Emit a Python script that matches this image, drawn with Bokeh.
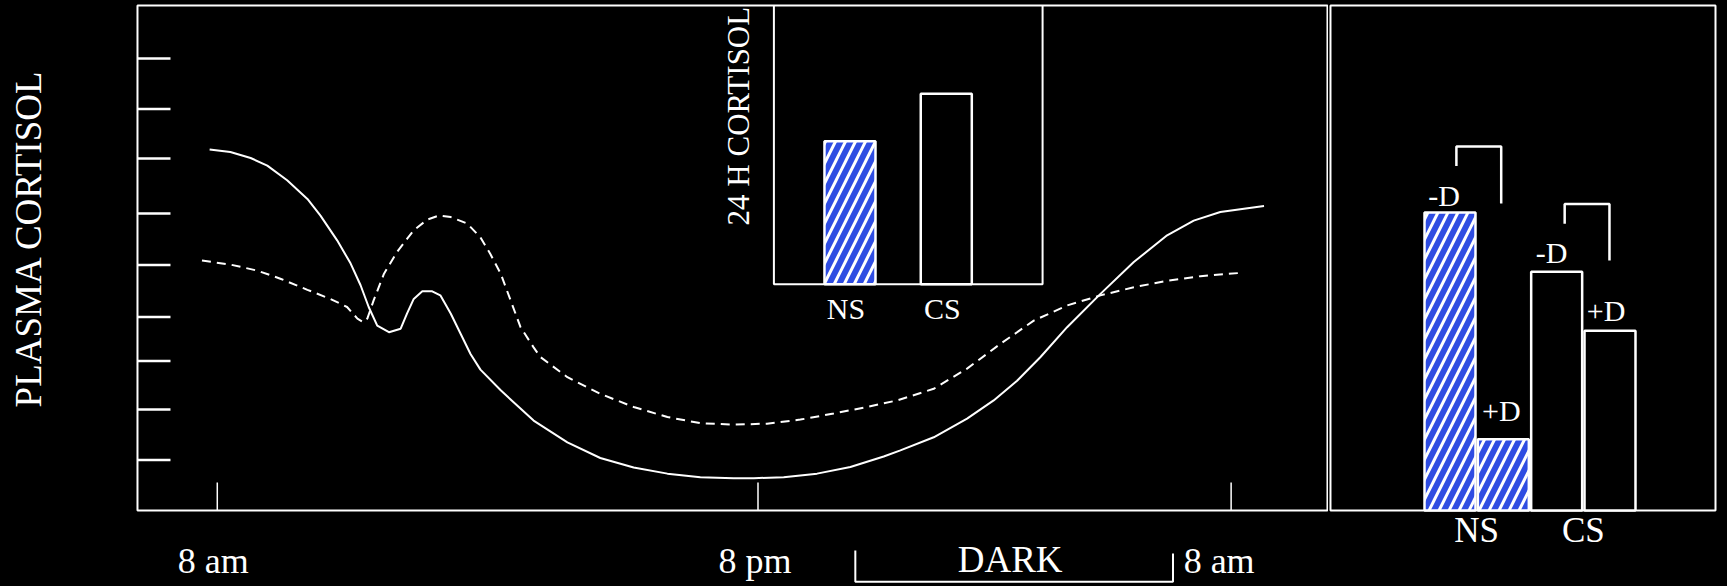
from math import pi
from bokeh.plotting import figure
from bokeh.layouts import row
from bokeh.models import Range1d, ColumnDataSource
from bokeh.core.properties import value
from bokeh.embed import file_html
from bokeh.resources import INLINE

FONT = "Liberation Serif"
WHITE = "white"
BLUE = "#2f4de2"

# ---------------- data ----------------
# main panel: plasma cortisol over 24 h (hours after 8 am, arbitrary units)
hours_solid = [-0.17, 0.29, 0.74, 1.11, 1.55, 2.00, 2.29, 2.66, 2.96, 3.18, 3.36, 3.55, 3.81, 4.07,
               4.21, 4.36, 4.55, 4.77, 4.95, 5.18, 5.40, 5.62, 5.84, 6.29, 7.02, 7.77, 8.50, 9.24,
               9.99, 10.72, 11.46, 11.91, 12.57, 13.31, 14.05, 14.79, 15.16, 15.90, 16.64, 17.23,
               17.75, 18.27, 18.86, 19.60, 20.34, 21.08, 21.67, 22.26, 23.23]
cortisol_solid = [7.15, 7.10, 6.98, 6.83, 6.54, 6.17, 5.84, 5.35, 4.89, 4.46, 4.03, 3.66, 3.53, 3.60,
                  3.90, 4.19, 4.34, 4.34, 4.26, 3.90, 3.50, 3.10, 2.79, 2.38, 1.78, 1.35, 1.04, 0.85,
                  0.73, 0.66, 0.64, 0.64, 0.66, 0.73, 0.86, 1.07, 1.19, 1.45, 1.82, 2.18,
                  2.57, 3.04, 3.63, 4.29, 4.92, 5.45, 5.74, 5.91, 6.03]
hours_dashed = [-0.34, 0.29, 0.89, 1.40, 2.00, 2.51, 2.88, 3.11, 3.24, 3.33, 3.47, 3.70, 3.99, 4.36,
                4.66, 4.92, 5.18, 5.55, 5.84, 6.06, 6.29, 6.51, 6.73, 7.02, 7.17, 7.77, 8.50, 9.24,
                9.99, 10.72, 11.46, 12.20, 12.94, 13.68, 14.42, 15.09, 15.90, 16.64, 17.38, 18.12,
                18.86, 19.60, 20.34, 21.08, 21.82, 22.78]
cortisol_dashed = [4.95, 4.87, 4.75, 4.59, 4.37, 4.19, 4.03, 3.80, 3.73, 3.80, 4.16, 4.69, 5.12, 5.55,
                   5.76, 5.84, 5.81, 5.68, 5.41, 5.08, 4.69, 4.16, 3.63, 3.23, 3.04, 2.64, 2.31, 2.05,
                   1.85, 1.73, 1.70, 1.72, 1.80, 1.92, 2.05, 2.18, 2.41, 2.81, 3.30, 3.76,
                   4.06, 4.26, 4.42, 4.55, 4.64, 4.71]

x_tick_hours = [0, 12, 22.5]
x_tick_labels = ["8 am", "8 pm", "8 am"]
y_tick_values = [1.0, 2.0, 2.96, 3.83, 4.86, 5.88, 6.97, 7.95, 8.95]
y_axis_title = "PLASMA CORTISOL"

# plotting box of the main panel (hours, cortisol units)
box_x = (-1.771, 24.638)
box_y = (0, 10)

dark_start = 14.16
dark_end = 21.21
dark_label = "DARK"

# inset: 24 h cortisol
inset_title = "24 H CORTISOL"
inset_groups = ["NS", "CS"]
inset_pos = [1, 2]
inset_values = [7.15, 9.52]
inset_box_x = (0.21, 3.0)
inset_box_top = 13.94

# right panel: -D / +D
right_labels = ["-D", "+D", "-D", "+D"]
right_pos = [1, 2, 3, 4]
right_values = [5.90, 1.41, 4.73, 3.56]
right_groups = ["NS", "CS"]
right_group_pos = [1.5, 3.5]
right_box_x = (-1.2407, 5.978)
bracket_xs = [[1.12, 1.12, 1.96, 1.96], [3.15, 3.15, 3.99, 3.99]]
bracket_ys = [[6.82, 7.21, 7.21, 6.08], [5.68, 6.07, 6.07, 4.95]]

# label nudges (screen pixels, style only)
tick_label_dx = [-4, -3, -12]
bar_label_dx = [-6, -2, -5, -4]
bar_label_dy = [-17, -29, -19, -20]


def panel(width, x_range):
    f = figure(width=width, height=586, x_range=x_range, y_range=Range1d(-1.505, 10.099),
               output_backend="svg", toolbar_location=None, x_axis_location=None,
               y_axis_location=None, min_border=0,
               background_fill_color="black", border_fill_color="black")
    f.grid.visible = False
    f.outline_line_color = None
    return f


def label_kw(size):
    return dict(text_align="center", text_baseline="middle", text_color=WHITE,
                text_font=value(FONT), text_font_size=size)


# ---------------- main panel ----------------
p = panel(1328, Range1d(-4.811, 24.661))

p.quad(left=[box_x[0]], right=[box_x[1]], bottom=[box_y[0]], top=[box_y[1]],
       fill_color=None, line_color=WHITE, line_width=2)
p.ray(x=[box_x[0]] * len(y_tick_values), y=y_tick_values, length=33, length_units="screen",
      angle=0, line_color=WHITE, line_width=2.5)
p.ray(x=x_tick_hours, y=[box_y[0]] * len(x_tick_hours), length=28, length_units="screen",
      angle=pi / 2, line_color=WHITE, line_width=1.5)
tick_src = ColumnDataSource(dict(x=x_tick_hours, y=[box_y[0]] * len(x_tick_hours),
                                 text=x_tick_labels, dx=tick_label_dx))
p.text(x="x", y="y", text="text", source=tick_src, x_offset="dx", y_offset=51,
       **label_kw("36px"))
p.text(x=[-4.183], y=[5.388], text=[y_axis_title], angle=pi / 2, **label_kw("37px"))

p.line(hours_solid, cortisol_solid, line_color=WHITE, line_width=2, line_join="round")
p.line(hours_dashed, cortisol_dashed, line_color=WHITE, line_width=2, line_dash="9 6")

# DARK bracket
p.line([dark_start, dark_start, dark_end, dark_end], [-0.79, -1.41, -1.41, -0.85],
       line_color=WHITE, line_width=2)
p.text(x=[(dark_start + dark_end) / 2], y=[box_y[0]], text=[dark_label], x_offset=-4,
       y_offset=49, **label_kw("37px"))

# inset
p.extra_x_ranges = {"ix": Range1d(-7.821, 5.969)}
p.extra_y_ranges = {"iy": Range1d(-15.115, 14.185)}
p.line([inset_box_x[0], inset_box_x[0], inset_box_x[1], inset_box_x[1]],
       [inset_box_top, 0, 0, inset_box_top],
       x_range_name="ix", y_range_name="iy", line_color=WHITE, line_width=2)
inset_src = ColumnDataSource(dict(x=inset_pos, top=inset_values, label=inset_groups,
                                  fill=[BLUE, "black"], hatch=["/", " "]))
p.vbar(x="x", top="top", bottom=0, width=0.53, source=inset_src, x_range_name="ix",
       y_range_name="iy", fill_color="fill", hatch_pattern="hatch", hatch_color=WHITE,
       hatch_scale=20, hatch_weight=3, line_color=WHITE, line_width=2.5)
p.text(x="x", y=0, text="label", source=inset_src, x_range_name="ix", y_range_name="iy",
       x_offset=-4, y_offset=24, **label_kw("30px"))
p.text(x=[-0.158], y=[8.405], text=[inset_title], x_range_name="ix", y_range_name="iy",
       angle=pi / 2, **label_kw("31px"))

# ---------------- right panel ----------------
r = panel(391, Range1d(-1.278, 6.053))
r.quad(left=[right_box_x[0]], right=[right_box_x[1]], bottom=[box_y[0]], top=[box_y[1]],
       fill_color=None, line_color=WHITE, line_width=2)
right_src = ColumnDataSource(dict(x=right_pos, top=right_values, label=right_labels,
                                  fill=[BLUE, BLUE, "black", "black"],
                                  hatch=["/", "/", " ", " "],
                                  dx=bar_label_dx, dy=bar_label_dy))
r.vbar(x="x", top="top", bottom=0, width=0.956, source=right_src, fill_color="fill",
       hatch_pattern="hatch", hatch_color=WHITE, hatch_scale=20, hatch_weight=3,
       line_color=WHITE, line_width=2.5)
r.text(x="x", y="top", text="label", source=right_src, x_offset="dx", y_offset="dy",
       **label_kw("30px"))
r.text(x=right_group_pos, y=[box_y[0]] * len(right_group_pos), text=right_groups,
       y_offset=20, **label_kw("35px"))
r.multi_line(bracket_xs, bracket_ys, line_color=WHITE, line_width=2.5)

layout = row(p, r)
html = file_html(layout, INLINE)
html = html.replace("<head>", "<head><style>html,body{background:#000;}</style>", 1)
open("out.html", "w").write(html)
